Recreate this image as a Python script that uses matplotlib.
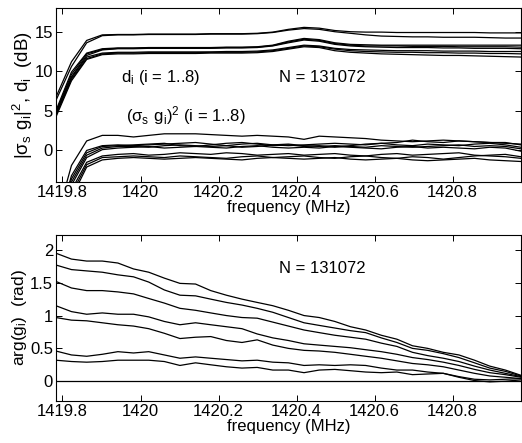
import matplotlib
matplotlib.use("Agg")
import matplotlib.pyplot as plt
from matplotlib.ticker import FuncFormatter

plt.rcParams["font.family"] = ["Liberation Sans", "DejaVu Sans"]
plt.rcParams["mathtext.default"] = "regular"
plt.rcParams["font.size"] = 12

# frequency samples (MHz)
freq = [1419.783, 1419.823, 1419.862, 1419.902, 1419.942, 1419.982, 1420.021,
        1420.061, 1420.101, 1420.141, 1420.180, 1420.220, 1420.260, 1420.299,
        1420.339, 1420.379, 1420.419, 1420.458, 1420.498, 1420.538, 1420.577,
        1420.617, 1420.657, 1420.697, 1420.736, 1420.776, 1420.816, 1420.856,
        1420.895, 1420.935, 1420.975]

# d_i (dB), i = 1..8
d1 = [6.7, 11.2, 13.9, 14.6, 14.65, 14.65, 14.7, 14.7, 14.7, 14.7, 14.75, 14.75, 14.75, 14.8, 14.95, 15.3,
      15.55, 15.45, 15.15, 15.0, 14.95, 14.95, 14.9, 14.9, 14.9, 14.9, 14.9, 14.9, 14.85, 14.85, 14.85]
d2 = [6.3, 10.6, 13.6, 14.5, 14.6, 14.6, 14.65, 14.65, 14.65, 14.65, 14.7, 14.7, 14.7, 14.75, 14.9, 15.2,
      15.4, 15.3, 15.0, 14.8, 14.6, 14.45, 14.4, 14.35, 14.35, 14.3, 14.3, 14.3, 14.25, 14.2, 14.2]
d3 = [5.0, 9.9, 12.3, 12.85, 12.95, 12.95, 13.0, 13.0, 13.0, 13.0, 13.0, 13.05, 13.05, 13.1, 13.3, 13.8,
      14.15, 14.0, 13.6, 13.4, 13.35, 13.3, 13.3, 13.3, 13.3, 13.3, 13.3, 13.3, 13.3, 13.3, 13.3]
d4 = [4.8, 9.6, 12.2, 12.75, 12.9, 12.9, 12.95, 12.95, 12.95, 12.95, 12.95, 13.0, 13.0, 13.05, 13.25, 13.7,
      14.05, 13.9, 13.5, 13.3, 13.2, 13.2, 13.2, 13.15, 13.15, 13.15, 13.1, 13.1, 13.1, 13.1, 13.05]
d5 = [4.6, 9.3, 12.0, 12.7, 12.85, 12.85, 12.9, 12.9, 12.9, 12.9, 12.9, 12.95, 12.95, 13.0, 13.2, 13.6,
      13.95, 13.8, 13.4, 13.2, 13.1, 13.05, 13.0, 13.0, 13.0, 12.95, 12.95, 12.9, 12.9, 12.9, 12.85]
d6 = [4.6, 9.2, 11.8, 12.3, 12.4, 12.4, 12.45, 12.45, 12.45, 12.45, 12.45, 12.5, 12.5, 12.55, 12.7, 13.0,
      13.3, 13.2, 12.9, 12.75, 12.7, 12.65, 12.6, 12.6, 12.6, 12.55, 12.55, 12.55, 12.5, 12.5, 12.5]
d7 = [4.4, 9.0, 11.6, 12.2, 12.3, 12.3, 12.35, 12.35, 12.35, 12.35, 12.4, 12.4, 12.4, 12.45, 12.6, 12.9,
      13.2, 13.1, 12.8, 12.6, 12.5, 12.45, 12.4, 12.4, 12.35, 12.35, 12.3, 12.3, 12.25, 12.25, 12.2]
d8 = [4.2, 8.8, 11.5, 12.1, 12.2, 12.2, 12.25, 12.25, 12.25, 12.25, 12.3, 12.3, 12.3, 12.35, 12.5, 12.8,
      13.1, 13.0, 12.6, 12.4, 12.3, 12.2, 12.15, 12.1, 12.05, 12.0, 12.0, 11.95, 11.9, 11.85, 11.8]

# (sigma_s g_i)^2 (dB), i = 1..8
s1 = [-9.0, -1.9, 1.2, 1.9, 1.9, 1.7, 1.9, 2.1, 2.1, 2.1, 2.0, 1.9, 1.8, 1.9, 1.8, 1.7,
      1.4, 1.8, 1.7, 1.6, 1.5, 1.3, 1.2, 1.1, 1.2, 1.3, 1.2, 1.1, 1.0, 0.9, 0.8]
s2 = [-10.0, -3.2, 0.0, 0.6, 0.7, 0.6, 0.7, 0.8, 0.9, 1.0, 0.8, 0.6, 0.8, 0.9, 0.7, 0.6,
      0.7, 0.8, 0.9, 0.8, 0.7, 0.9, 1.0, 1.3, 1.1, 1.0, 1.2, 1.1, 1.0, 1.0, 0.7]
s3 = [-10.0, -3.6, -0.3, 0.5, 0.6, 0.7, 0.8, 0.9, 0.6, 0.5, 0.7, 0.9, 1.0, 0.8, 0.6, 0.7,
      0.5, 0.6, 0.4, 0.6, 0.8, 0.9, 0.7, 0.6, 0.8, 0.7, 0.6, 0.8, 0.9, 0.7, 0.4]
s4 = [-10.0, -4.0, -0.6, 0.3, 0.5, 0.5, 0.4, 0.6, 0.7, 0.6, 0.5, 0.6, 0.4, 0.5, 0.7, 0.8,
      0.6, 0.5, 0.6, 0.5, 0.4, 0.6, 0.5, 0.4, 0.5, 0.6, 0.7, 0.5, 0.6, 0.5, 0.2]
s5 = [-10.0, -4.4, -0.9, 0.1, 0.3, 0.4, 0.5, 0.3, 0.4, 0.5, 0.4, 0.3, 0.5, 0.6, 0.4, 0.3,
      0.4, 0.3, 0.5, 0.4, 0.3, 0.2, 0.4, 0.5, 0.3, 0.4, 0.3, 0.2, 0.4, 0.3, -0.1]
s6 = [-11.0, -5.0, -1.5, -0.7, -0.5, -0.4, -0.6, -0.5, -0.3, -0.4, -0.5, -0.3, -0.4, -0.6, -0.5, -0.4,
      -0.6, -0.5, -0.4, -0.6, -0.7, -0.5, -0.4, -0.6, -0.5, -0.4, -0.3, -0.6, -0.7, -0.8, -1.0]
s7 = [-11.0, -5.5, -1.8, -0.9, -0.8, -0.7, -0.8, -0.9, -0.7, -0.8, -0.9, -1.0, -0.8, -0.7, -0.9, -0.8,
      -0.7, -0.9, -1.0, -0.8, -0.7, -0.9, -1.0, -0.8, -0.9, -1.1, -0.9, -0.7, -0.6, -0.5, -0.8]
s8 = [-12.0, -6.0, -2.1, -1.2, -1.0, -0.9, -1.0, -1.1, -1.0, -0.9, -1.0, -1.1, -1.2, -1.0, -0.9, -1.0,
      -1.1, -1.0, -0.9, -1.1, -1.2, -1.1, -1.0, -1.2, -1.3, -1.2, -1.1, -1.0, -1.2, -1.3, -1.4]

# arg(g_i) (rad), i = 1..8 (reference element is zero)
p1 = [1.95, 1.86, 1.83, 1.83, 1.80, 1.71, 1.66, 1.57, 1.49, 1.48, 1.38, 1.31, 1.25, 1.20, 1.15, 1.08,
      1.00, 0.97, 0.91, 0.83, 0.78, 0.70, 0.64, 0.54, 0.50, 0.44, 0.40, 0.32, 0.23, 0.17, 0.09]
p2 = [1.77, 1.70, 1.68, 1.66, 1.62, 1.59, 1.51, 1.39, 1.31, 1.30, 1.25, 1.20, 1.16, 1.11, 1.05, 0.97,
      0.89, 0.85, 0.81, 0.77, 0.74, 0.66, 0.59, 0.50, 0.47, 0.42, 0.36, 0.28, 0.20, 0.15, 0.08]
p3 = [1.52, 1.42, 1.38, 1.38, 1.36, 1.33, 1.26, 1.19, 1.11, 1.08, 1.04, 1.00, 0.97, 0.96, 0.90, 0.84,
      0.78, 0.74, 0.70, 0.67, 0.64, 0.58, 0.53, 0.44, 0.39, 0.35, 0.30, 0.23, 0.17, 0.12, 0.07]
p4 = [1.15, 1.06, 1.02, 1.04, 1.02, 1.02, 0.98, 0.91, 0.86, 0.89, 0.86, 0.83, 0.80, 0.72, 0.66, 0.62,
      0.57, 0.55, 0.53, 0.51, 0.48, 0.45, 0.41, 0.36, 0.33, 0.29, 0.24, 0.18, 0.13, 0.10, 0.06]
p5 = [0.97, 0.93, 0.92, 0.89, 0.86, 0.84, 0.80, 0.73, 0.65, 0.67, 0.68, 0.62, 0.59, 0.63, 0.55, 0.50,
      0.47, 0.46, 0.44, 0.41, 0.38, 0.35, 0.31, 0.27, 0.25, 0.22, 0.17, 0.12, 0.08, 0.06, 0.04]
p6 = [0.46, 0.40, 0.38, 0.41, 0.45, 0.43, 0.45, 0.40, 0.35, 0.37, 0.35, 0.33, 0.31, 0.32, 0.29, 0.28,
      0.24, 0.25, 0.24, 0.25, 0.24, 0.20, 0.17, 0.17, 0.14, 0.12, 0.07, 0.03, 0.02, 0.03, 0.04]
p7 = [0.32, 0.30, 0.29, 0.30, 0.32, 0.32, 0.32, 0.30, 0.24, 0.28, 0.25, 0.22, 0.20, 0.21, 0.17, 0.17,
      0.13, 0.17, 0.18, 0.16, 0.14, 0.13, 0.14, 0.10, 0.11, 0.12, 0.06, 0.01, -0.01, 0.00, 0.02]
p8 = [0.0] * len(freq)

x_ticks = [1419.8, 1420.0, 1420.2, 1420.4, 1420.6, 1420.8]

fig = plt.figure(figsize=(5.22, 4.43), dpi=100)
ax1 = fig.add_axes([0.107, 0.589, 0.891, 0.393])
ax2 = fig.add_axes([0.107, 0.095, 0.891, 0.375])

for y in [d1, d2, d3, d4, d5, d6, d7, d8, s1, s2, s3, s4, s5, s6, s7, s8]:
    ax1.plot(freq, y, color="black", lw=0.9)
for y in [p1, p2, p3, p4, p5, p6, p7, p8]:
    ax2.plot(freq, y, color="black", lw=0.9)

ax1.set_ylim(-4, 18)
ax1.set_yticks([0, 5, 10, 15])
ax2.set_ylim(-0.3, 2.23)
ax2.set_yticks([0, 0.5, 1, 1.5, 2])
ax2.yaxis.set_major_formatter(FuncFormatter(lambda v, p: "%g" % v))

for ax in (ax1, ax2):
    ax.set_xlim(freq[0], freq[-1])
    ax.set_xticks(x_ticks)
    ax.xaxis.set_major_formatter(FuncFormatter(lambda v, p: "%g" % round(v, 1)))
    ax.tick_params(direction="in", top=True, right=True, length=4, width=0.7, labelsize=12, pad=2)
    for sp in ax.spines.values():
        sp.set_linewidth(0.8)
    ax.set_xlabel("frequency (MHz)", fontsize=12, labelpad=0)
    ax.text(1420.355, 9.25 if ax is ax1 else 1.72, "N = 131072", fontsize=12, va="center")

ax1.set_ylabel("$|σ_s\\ g_i|^2$, $d_i$  (dB)", fontsize=13.5, labelpad=0)
ax2.set_ylabel("$arg(g_i)$  (rad)", fontsize=12.5, labelpad=1)

ax1.text(1419.951, 9.25, "$d_i$ (i = 1..8)", fontsize=12, va="center")
ax1.text(1419.962, 4.4, "$(σ_s\\ g_i)^2$ (i = 1..8)", fontsize=12, va="center")

fig.savefig("out.png", dpi=100)
